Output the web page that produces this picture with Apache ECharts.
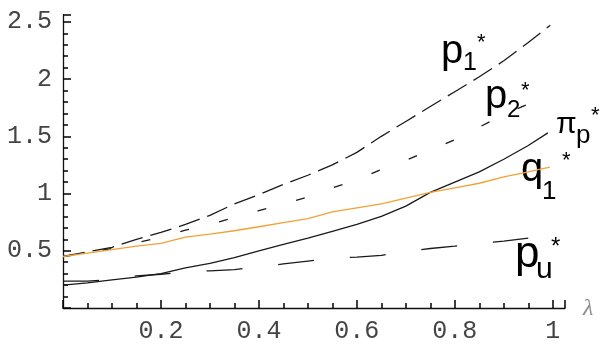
<!DOCTYPE html>
<html lang="en">
<head>
<meta charset="UTF-8">
<title>prices vs lambda</title>
<script src="https://cdn.jsdelivr.net/npm/echarts@6.0.0/dist/echarts.min.js"></script>
<style>
    html, body { margin: 0; padding: 0; background: #ffffff; }
    #main { width: 612px; height: 348px; }
</style>
</head>
<body>
<div id="main"></div>
<script type="text/javascript">
    // tick labels
    var xLabels = [0.2, 0.4, 0.6, 0.8, 1];
    var yLabels = [0.5, 1, 1.5, 2, 2.5];

    // p1* (long dashes)
    var p1X = [0, 0.05, 0.1, 0.15, 0.2, 0.25, 0.3, 0.35, 0.4, 0.45, 0.5, 0.55, 0.6, 0.65, 0.7, 0.75, 0.8, 0.85, 0.9, 0.95, 0.995];
    var p1Y = [0.45, 0.49, 0.53, 0.60, 0.66, 0.73, 0.81, 0.91, 0.99, 1.08, 1.16, 1.25, 1.36, 1.50, 1.63, 1.76, 1.89, 2.02, 2.16, 2.32, 2.47];
    // p2* (short dashes)
    var p2X = [0, 0.05, 0.1, 0.15, 0.2, 0.25, 0.3, 0.35, 0.4, 0.45, 0.5, 0.55, 0.6, 0.65, 0.7, 0.75, 0.8, 0.85, 0.9, 0.96];
    var p2Y = [0.45, 0.48, 0.52, 0.57, 0.62, 0.68, 0.73, 0.79, 0.85, 0.91, 0.97, 1.05, 1.12, 1.21, 1.29, 1.38, 1.47, 1.58, 1.69, 1.80];
    // pi_p* (solid black)
    var piX = [0, 0.05, 0.1, 0.15, 0.2, 0.25, 0.3, 0.35, 0.4, 0.45, 0.5, 0.55, 0.6, 0.65, 0.7, 0.75, 0.8, 0.85, 0.9, 0.95, 0.99];
    var piY = [0.20, 0.22, 0.245, 0.27, 0.30, 0.35, 0.39, 0.44, 0.50, 0.555, 0.61, 0.67, 0.73, 0.80, 0.89, 1.01, 1.10, 1.19, 1.30, 1.42, 1.53];
    // q1* (orange)
    var q1X = [0, 0.05, 0.1, 0.15, 0.2, 0.25, 0.3, 0.35, 0.4, 0.45, 0.5, 0.55, 0.6, 0.65, 0.7, 0.75, 0.8, 0.85, 0.9, 0.95, 0.994];
    var q1Y = [0.45, 0.48, 0.51, 0.54, 0.565, 0.62, 0.645, 0.675, 0.71, 0.745, 0.78, 0.84, 0.875, 0.91, 0.96, 1.01, 1.05, 1.09, 1.145, 1.19, 1.23];
    // pu* (sparse long dashes)
    var puX = [0, 0.05, 0.1, 0.15, 0.2, 0.25, 0.3, 0.35, 0.4, 0.45, 0.5, 0.55, 0.6, 0.65, 0.7, 0.75, 0.8, 0.85, 0.9, 0.95];
    var puY = [0.235, 0.235, 0.25, 0.28, 0.295, 0.315, 0.325, 0.335, 0.36, 0.385, 0.41, 0.435, 0.445, 0.46, 0.495, 0.52, 0.54, 0.565, 0.585, 0.61];

    function pairs(xs, ys) {
        return xs.map(function (x, i) { return [x, ys[i]]; });
    }

    function curve(name, xs, ys, color, dash) {
        return {
            name: name,
            type: 'line',
            showSymbol: false,
            xAxisIndex: 0,
            yAxisIndex: 0,
            data: pairs(xs, ys),
            lineStyle: { color: color, width: 1.3, type: dash, dashOffset: 0 }
        };
    }

    // curve labels: text, left, middle y, font size
    var labelFont = '"Liberation Sans", Arial, sans-serif';
    var curveLabels = [
        ['p', 441, 52, 40], ['1', 463, 63, 25], ['*', 477, 43, 22],
        ['p', 485, 97, 40], ['2', 507, 110, 24], ['*', 521, 91, 22],
        ['\u03c0', 556, 125, 30], ['p', 576, 136, 26], ['*', 591, 116, 22],
        ['q', 521, 170, 40], ['1', 542, 192, 26], ['*', 562, 161, 22],
        ['p', 515, 255, 44], ['u', 536, 270, 30], ['*', 551, 247, 24]
    ];
    var graphics = curveLabels.map(function (l) {
        return {
            type: 'text', x: l[1], y: l[2], silent: true,
            style: { text: l[0], font: l[3] + 'px ' + labelFont, fill: '#000', align: 'left', verticalAlign: 'middle' }
        };
    });
    graphics.push({
        type: 'text', x: 583, y: 309, silent: true,
        style: { text: '\u03bb', font: 'italic 24px "Liberation Serif", serif', fill: '#8a8a8a', align: 'left', verticalAlign: 'middle' }
    });

    function tickLabel(list) {
        return function (v) {
            for (var i = 0; i < list.length; i++) {
                if (Math.abs(list[i] - v) < 1e-6) return String(list[i]);
            }
            return '';
        };
    }

    // main axis: line, labels and the long ticks
    function axis(max, interval, labels) {
        return {
            type: 'value',
            min: 0,
            max: max,
            interval: interval,
            axisLine: { show: true, onZero: false, lineStyle: { color: '#111', width: 1.3 } },
            axisTick: { show: true, inside: true, length: 8, lineStyle: { color: '#000', width: 1.5 } },
            axisLabel: {
                margin: 11,
                fontFamily: '"Liberation Mono", "Courier New", monospace',
                fontSize: 25,
                color: '#444',
                formatter: tickLabel(labels)
            },
            splitLine: { show: false }
        };
    }

    // second axis on the same side, only for the short ticks
    function tickAxis(max, interval, position) {
        return {
            type: 'value',
            position: position,
            min: 0,
            max: max,
            interval: interval,
            axisLine: { show: false, onZero: false },
            axisTick: { show: true, inside: true, length: 5, lineStyle: { color: '#000', width: 1.5 } },
            axisLabel: { show: true, fontSize: 8, color: 'rgba(0,0,0,0)' },
            splitLine: { show: false }
        };
    }

    var chart = echarts.init(document.getElementById('main'));
    chart.setOption({
        animation: false,
        grid: { left: 63, right: 47, top: 15, bottom: 40 },
        xAxis: [axis(1.025, 0.2, xLabels), tickAxis(1.025, 0.05, 'bottom')],
        yAxis: [axis(2.56, 0.5, yLabels), tickAxis(2.56, 0.1, 'left')],
        series: [
            curve('p1', p1X, p1Y, '#1a1a1a', [22, 8]),
            curve('p2', p2X, p2Y, '#1a1a1a', [9, 31]),
            curve('pi_p', piX, piY, '#1a1a1a', 'solid'),
            curve('q1', q1X, q1Y, '#f2a232', 'solid'),
            curve('pu', puX, puY, '#1a1a1a', [36, 36])
        ],
        graphic: graphics
    });
</script>
</body>
</html>
